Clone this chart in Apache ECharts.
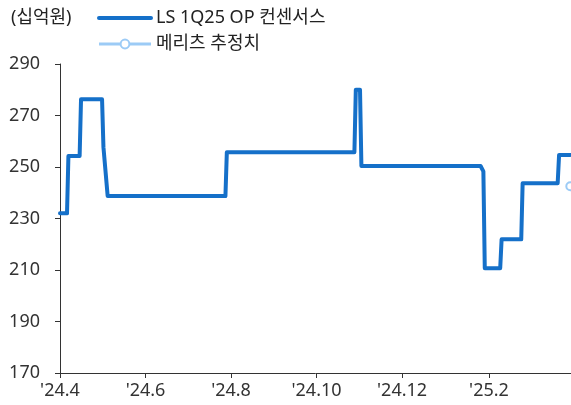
<!DOCTYPE html>
<html>
<head>
<meta charset="utf-8">
<script src="https://cdn.jsdelivr.net/npm/echarts@6/dist/echarts.min.js"></script>
<style>
html,body{margin:0;padding:0;background:#fff;}
#chart{width:571px;height:405px;}
</style>
</head>
<body>
<div id="chart"></div>
<script>
// ---- data ----
const unitLabel = '(십억원)';
const seriesNames = ['LS 1Q25 OP 컨센서스', '메리츠 추정치'];
const consensusDates = ['2024-04-01','2024-04-06','2024-04-07','2024-04-15','2024-04-16','2024-05-01','2024-05-02','2024-05-03','2024-05-05','2024-07-28','2024-07-29','2024-10-28','2024-10-29','2024-11-01','2024-11-02','2025-01-26','2025-01-28','2025-01-29','2025-02-09','2025-02-10','2025-02-24','2025-02-25','2025-03-22','2025-03-23','2025-03-31'];
const consensusValues = [232,232,254.3,254.3,276.3,276.3,257.6,257.6,238.7,238.7,255.7,255.7,280,280,250.4,250.4,248.3,210.7,210.7,221.9,221.9,243.7,243.7,254.7,254.7];
const meritzDates = ['2025-03-31'];
const meritzValues = [242.5];
const xTickDates = ['2024-04-01','2024-06-01','2024-08-01','2024-10-01','2024-12-01','2025-02-01'];
const yMin = 170, yMax = 290, yStep = 20;
const xStart = '2024-04-01', xEnd = '2025-03-31T12:00:00';

function toTs(s){ return new Date(s.length === 10 ? s + 'T00:00:00' : s).getTime(); }
const tickTs = xTickDates.map(toTs);

const chart = echarts.init(document.getElementById('chart'), null, {renderer:'canvas'});
const font = '"Noto Sans", "Noto Sans CJK KR", sans-serif';
const mainColor = '#1570c9';
const lightColor = '#9ccbf6';

chart.setOption({
  animation:false,
  title:{text:unitLabel,left:11,top:9,padding:0,textStyle:{fontFamily:font,fontSize:18,fontWeight:'normal',color:'#222'}},
  legend:{
    left:97, top:9, padding:0, orient:'vertical', itemWidth:52, itemHeight:11, itemGap:8,
    textStyle:{fontFamily:font,fontSize:18,color:'#222'},
    data:[
      {name:seriesNames[0],itemStyle:{opacity:0},lineStyle:{width:4}},
      {name:seriesNames[1],lineStyle:{width:3}}
    ]
  },
  grid:{left:60,right:0,top:64,bottom:32,containLabel:false},
  xAxis:{
    type:'value', min:toTs(xStart), max:toTs(xEnd),
    axisLine:{lineStyle:{color:'#333',width:1}},
    axisTick:{show:true,length:5,lineStyle:{color:'#333'},customValues:tickTs},
    axisLabel:{customValues:tickTs,fontFamily:font,fontSize:18,color:'#333',margin:9,
      formatter:function(v){const d=new Date(v);return "'"+String(d.getFullYear()).slice(2)+"."+(d.getMonth()+1);}},
    splitLine:{show:false}
  },
  yAxis:{
    type:'value', min:yMin, max:yMax, interval:yStep,
    axisLine:{show:true,lineStyle:{color:'#333',width:1}},
    axisTick:{show:true,length:5,lineStyle:{color:'#333'}},
    axisLabel:{fontFamily:font,fontSize:18,color:'#333',margin:20},
    splitLine:{show:false}
  },
  series:[
    {name:seriesNames[0],type:'line',showSymbol:false,symbol:'none',
     data:consensusDates.map((d,i)=>[toTs(d),consensusValues[i]]),
     lineStyle:{color:mainColor,width:4,cap:'round',join:'round'},
     itemStyle:{color:mainColor}},
    {name:seriesNames[1],type:'line',symbol:'circle',symbolSize:8,showSymbol:true,
     data:meritzDates.map((d,i)=>[toTs(d),meritzValues[i]]),
     lineStyle:{color:lightColor,width:3},
     itemStyle:{color:'#fff',borderColor:lightColor,borderWidth:2}}
  ]
});
</script>
</body>
</html>
